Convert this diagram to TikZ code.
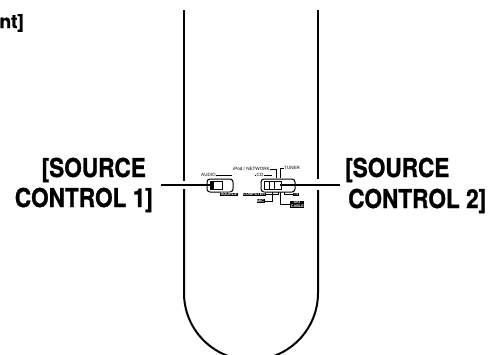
\documentclass[tikz,border=0pt]{standalone}
\usepackage{fontspec}
\setmainfont{TeX Gyre Heros}
\newfontfamily\heavyf[BoldFeatures={FakeBold=1.2}]{TeX Gyre Heros}
\newfontfamily\tinyf{Liberation Sans}
\usetikzlibrary{calc}
\tikzset{
  body/.style={line width=2pt},
  leader/.style={line width=2pt},
  thinl/.style={line width=0.6pt},
  big/.style={font=\heavyf\bfseries\fontsize{26}{30}\selectfont, inner sep=0pt, xscale=.87},
  tiny/.style={font=\tinyf\fontsize{4.6}{5}\selectfont, inner sep=0pt},
  inv/.style={fill=black,text=white,font=\tinyf\bfseries\fontsize{3.8}{4}\selectfont, inner sep=0.6pt},
  sw/.style={draw,line width=1pt,rounded corners=3pt,fill=white}
}
\begin{document}
\begin{tikzpicture}[x=1pt,y=-1pt]
\useasboundingbox (0,0) rectangle (489,354);
\clip (0,0) rectangle (489,354);
% top label
\node[anchor=base east,font=\heavyf\bfseries\fontsize{19}{21}\selectfont,inner sep=0pt] (tl) at (24,28) {nt]};
% body
\coordinate (a1) at (184,10); \coordinate (a2) at (184,181);
\coordinate (a3) at (184,189);
\coordinate (b1) at (318,10); \coordinate (b2) at (318,179);
\coordinate (b3) at (318,190);
\draw[body] (a1) -- (a2);
\draw[body] (b1) -- (b2);
\draw[body] (a3) -- (184,293) arc[start angle=180,end angle=0,radius=67] -- (b3);
% big labels
\node[big,anchor=base east] (s1a) at (146,177) {[SOURCE};
\node[big,anchor=base east] (s1b) at (153,207) {CONTROL 1]};
\node[big,anchor=base west] (s2a) at (345,177) {[SOURCE};
\node[big,anchor=base west] (s2b) at (348,208) {CONTROL 2]};
% switches
\node[sw,minimum width=26pt,minimum height=13pt] (sw1) at (220,185.5) {};
\node[sw,minimum width=34pt,minimum height=13pt] (sw2) at (278,185.5) {};
\draw[line width=.8pt] (210,181.5) rectangle (222,189.5);
\fill (210,182) rectangle (214,189);
\draw[line width=.8pt] (264,181.5) rectangle (281,189.5);
\draw[line width=.7pt] (269,181.5) -- (269,189.5) (274,181.5) -- (274,189.5);
% tiny labels
\node[tiny,anchor=west] (audio) at (201,175) {AUDIO};
\node[tiny,anchor=east] (ipod) at (270,169) {iPod / NETWORK};
\node[tiny,anchor=west] (tuner) at (284,168) {TUNER};
\node[tiny] (cd) at (260,175) {CD};
\node[inv,anchor=east] (a2l) at (238,194.5) {SOURCE};
\node[inv,anchor=east] (n1) at (266,194.5) {COMPUTER};
\node[inv,anchor=east] (n2) at (265,201) {MIC};
\node[inv,anchor=west] (n3) at (293,194.5) {TV};
\node[inv,anchor=west,align=center] (n4) at (290,204.5) {SAT\\CABLE};
% thin connectors
\draw[thinl] (audio.east) -- (232,175);
\draw[thinl] (ipod.east) -- (276,169) -- (276,178);
\draw[thinl] (tuner.west) -- (280,168) -- (280,178);
\draw[thinl] (cd.east) -- (272,175);
\draw[thinl] (cd.west) -- (255,175);
\draw[thinl] (n1.east) -- (278,194.5) -- (278,192);
\draw[thinl] (n2.east) -- (272,201) -- (272,192);
\draw[thinl] (n3.west) -- (284,194.5) -- (284,192);
\draw[thinl] (n4.west) -- (280,204.5) -- (280,192);
% leaders
\draw[leader] (161,184.5) -- (213,184.5);
\draw[leader] (280,184.5) -- (340,184.5);
\end{tikzpicture}
\end{document}
